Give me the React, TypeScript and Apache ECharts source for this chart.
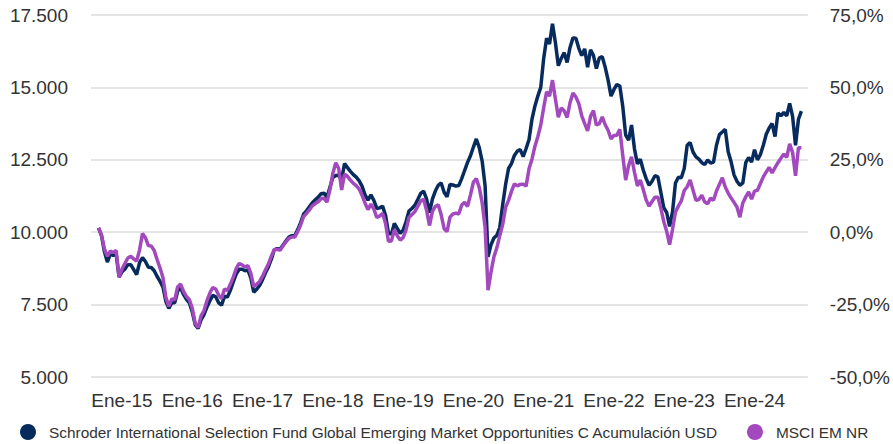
import React, { useEffect, useRef } from "react";
import * as echarts from "echarts";

// Half-monthly observations (1st and 16th of each month) starting 1 Sep 2014
const startYear = 2014;
const startMonth = 9;

const fundName =
  "Schroder International Selection Fund Global Emerging Market Opportunities C Acumulación USD";
const indexName = "MSCI EM NR";

const fundValues = [
  10150, 9880, 9330, 8970, 9240, 9200, 9250, 8450, 8630, 8730, 8880, 8880, 8710, 8540, 8950, 9120, 8990, 8790, 8780, 8670,
  8470, 8300, 8100, 7600, 7370, 7560, 7560, 7960, 8090, 7850, 7680, 7560, 7250, 6800, 6680, 6970, 7150, 7410, 7630, 7820,
  7770, 7560, 7480, 7790, 7760, 7990, 8280, 8550, 8720, 8720, 8670, 8700, 8410, 7930, 8030, 8160, 8360, 8600, 8800, 9070,
  9390, 9430, 9410, 9560, 9700, 9830, 9880, 9880, 10090, 10330, 10620, 10740, 10880, 11020, 11120, 11210, 11330, 11350, 11210, 11550,
  11890, 11960, 11970, 11820, 12370, 12230, 12100, 11990, 11900, 11770, 11580, 11290, 11110, 11290, 11100, 10820, 10840, 10900, 10580, 9960,
  9940, 10300, 10130, 9960, 10070, 10360, 10730, 10820, 10930, 11130, 11340, 11420, 11150, 10680, 11140, 11420, 11620, 11700, 11380, 11220,
  11650, 11630, 11590, 11610, 11850, 12130, 12410, 12640, 12940, 13220, 12920, 12450, 11600, 9150, 9560, 9800, 9890, 10160, 10950, 11650,
  12200, 12370, 12650, 12800, 12850, 12610, 12890, 13200, 13900, 14350, 14700, 15000, 16000, 16700, 16500, 17200, 16550, 15750, 16000, 16200,
  15860, 16380, 16710, 16700, 16350, 16100, 16330, 15700, 16300, 16100, 15650, 16020, 16060, 15700, 15250, 14700, 14930, 15100, 15050, 14350,
  13350, 13180, 13700, 12880, 12360, 12520, 12150, 11850, 11620, 11760, 11950, 11910, 11380, 10850, 10680, 10200, 10700, 11700, 11900, 11880,
  12200, 13000, 13100, 12770, 12600, 12520, 12400, 12340, 12490, 12390, 12420, 13000, 13370, 13460, 13550, 12780, 12430, 11980, 11760, 11620,
  11700, 12400, 12580, 12420, 12850, 12500, 12680, 13000, 13380, 13600, 13750, 13300, 14120, 14020, 14140, 14020, 14450, 14000, 13000, 13900,
  14180,
];

const indexValues = [
  10150, 9900, 9420, 9170, 9350, 9300, 9370, 8450, 8730, 8920, 9110, 9170, 9080, 9000, 9390, 9950, 9810, 9540, 9520, 9370,
  9050, 8760, 8430, 7740, 7440, 7700, 7660, 8110, 8210, 7960, 7780, 7670, 7370, 6850, 6710, 7110, 7290, 7630, 7900, 8090,
  8040, 7830, 7710, 8040, 7990, 8200, 8450, 8740, 8920, 8870, 8800, 8850, 8580, 8120, 8200, 8300, 8480, 8700, 8900, 9170,
  9400, 9400, 9380, 9530, 9670, 9790, 9830, 9830, 10020, 10250, 10540, 10650, 10770, 10910, 10990, 11050, 11160, 11170, 11040, 11460,
  12030, 12400, 12200, 11460, 12000, 11930, 11800, 11690, 11610, 11490, 11270, 11000, 10780, 10970, 10800, 10510, 10560, 10650, 10300, 9690,
  9700, 10080, 9880, 9730, 9810, 10080, 10510, 10610, 10710, 10890, 11080, 11140, 10760, 10230, 10720, 10890, 10950, 10600, 10120, 10020,
  10520, 10630, 10660, 10630, 10940, 11030, 10890, 11290, 11730, 11850, 11540, 11010, 10170, 8000, 8620, 9150, 9460, 9880, 10260, 10860,
  11100, 11410, 11670, 11600, 11650, 11660, 11590, 12190, 12520, 12960, 13300, 13700, 14300, 14850, 14700, 15250, 14600, 13970, 14290, 14190,
  13960, 14470, 14810, 14670, 14440, 14020, 13750, 13500, 14000, 14200, 13700, 13750, 13980, 13710, 13520, 13220, 13340, 13350, 13550, 12650,
  11800, 12300, 12600, 12070, 11600, 11800, 11470, 11110, 10900, 11060, 11210, 11210, 10830, 10370, 10030, 9570, 10100, 10700, 10900, 11080,
  11440, 11570, 11800, 11450, 11100, 11130, 11280, 11040, 10980, 11180, 11100, 11420, 11650, 11880, 11560, 11350, 11180, 11030, 10870, 10520,
  11010, 11220, 11390, 11140, 11420, 11450, 11680, 11910, 12080, 12240, 12050, 12230, 12400, 12550, 12700, 12580, 13050, 12750, 11950, 12920,
  12920,
];

// Observation dates
const dates: string[] = fundValues.map((_, k) => {
  const m = startMonth - 1 + Math.floor(k / 2);
  const y = startYear + Math.floor(m / 12);
  const mm = (m % 12) + 1;
  const d = k % 2 ? 16 : 1;
  return `${y}-${String(mm).padStart(2, "0")}-${String(d).padStart(2, "0")}`;
});

const yearLabels = [2015, 2016, 2017, 2018, 2019, 2020, 2021, 2022, 2023, 2024];
const axisStart = 2014.559;
const axisEnd = 2024.758;

function toYear(s: string): number {
  const [y, m, d] = s.split("-").map(Number);
  return y + (m - 1) / 12 + (d - 1) / 30 / 12;
}

function thousands(v: number): string {
  return String(v).replace(/\B(?=(\d{3})+(?!\d))/g, ".");
}

const FONT = '"Liberation Sans", Arial, sans-serif';
const NAVY = "#082b5e";
const PURPLE = "#a349be";

export default function App() {
  const ref = useRef<HTMLDivElement>(null);

  useEffect(() => {
    if (!ref.current) return;
    const chart = echarts.init(ref.current, undefined, { renderer: "svg" });
    chart.setOption({
      animation: false,
      textStyle: { fontFamily: FONT },
      grid: { left: 91, right: 85, top: 15, bottom: 67, containLabel: false },
      legend: {
        data: [fundName, indexName],
        icon: "circle",
        itemWidth: 32,
        itemHeight: 16,
        itemGap: 29,
        left: 20,
        top: 424,
        padding: 0,
        textStyle: { fontSize: 15.4, color: "#333", fontFamily: FONT },
      },
      xAxis: {
        type: "value",
        min: axisStart,
        max: axisEnd,
        axisLine: { show: false },
        axisTick: { show: false },
        splitLine: { show: false },
        axisLabel: {
          customValues: yearLabels,
          formatter: (v: number) => "Ene-" + String(Math.round(v)).slice(2),
          fontSize: 19,
          color: "#333",
          margin: 14,
          fontFamily: FONT,
        },
      },
      yAxis: [
        {
          type: "value",
          min: 5000,
          max: 17500,
          interval: 2500,
          axisLine: { show: false },
          axisTick: { show: false },
          splitLine: { show: true, lineStyle: { color: "#e4e4e4", width: 2 } },
          axisLabel: {
            formatter: (v: number) => thousands(v),
            fontSize: 19,
            color: "#333",
            margin: 23,
            fontFamily: FONT,
          },
        },
        {
          type: "value",
          position: "right",
          min: -50,
          max: 75,
          interval: 25,
          axisLine: { show: false },
          axisTick: { show: false },
          splitLine: { show: false },
          axisLabel: {
            formatter: (v: number) => v.toFixed(1).replace(".", ",") + "%",
            fontSize: 19,
            color: "#333",
            margin: 22,
            fontFamily: FONT,
          },
        },
      ],
      series: [
        {
          name: fundName,
          type: "line",
          yAxisIndex: 0,
          showSymbol: false,
          symbol: "none",
          color: NAVY,
          lineStyle: { color: NAVY, width: 3.5 },
          emphasis: { disabled: true },
          data: dates.map((d, i) => [toYear(d), fundValues[i]]),
        },
        {
          name: indexName,
          type: "line",
          yAxisIndex: 0,
          showSymbol: false,
          symbol: "none",
          color: PURPLE,
          lineStyle: { color: PURPLE, width: 3.5 },
          emphasis: { disabled: true },
          data: dates.map((d, i) => [toYear(d), indexValues[i]]),
        },
      ],
    });
    return () => chart.dispose();
  }, []);

  return (
    <div
      ref={ref}
      style={{ position: "fixed", left: 0, top: 0, width: 893, height: 444, background: "#fff" }}
    />
  );
}
